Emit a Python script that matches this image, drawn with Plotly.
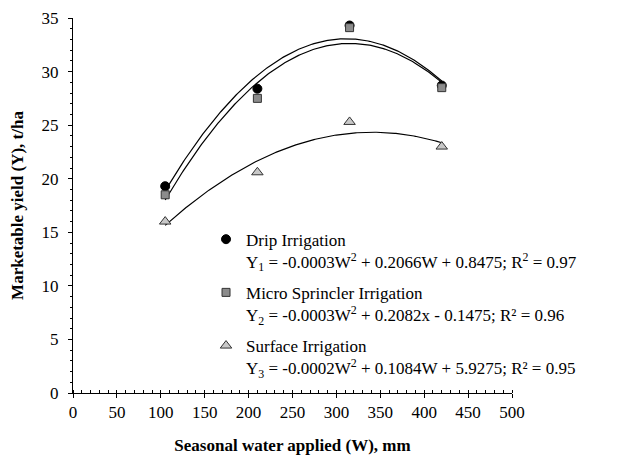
import numpy as np
import plotly.graph_objects as go

water = [105, 210, 315, 420]
drip = [19.3, 28.4, 34.3, 28.7]
micro = [18.5, 27.5, 34.1, 28.5]
surface = [16.0, 20.6, 25.3, 23.0]

names = [
    "Drip Irrigation<br>Y<sub>1</sub> = -0.0003W<sup>2</sup> + 0.2066W + 0.8475; R<sup>2</sup> = 0.97",
    "Micro Sprincler Irrigation<br>Y<sub>2</sub> = -0.0003W<sup>2</sup> + 0.2082x - 0.1475; R² = 0.96",
    "Surface Irrigation<br>Y<sub>3</sub> = -0.0002W<sup>2</sup> + 0.1084W + 5.9275; R² = 0.95",
]

FONT = "Liberation Serif, Times New Roman, serif"

fig = go.Figure()

series = [
    (drip, dict(symbol="circle", size=9, color="black", line=dict(color="black", width=1))),
    (micro, dict(symbol="square", size=8, color="#8c8c8c", line=dict(color="#333333", width=1))),
    (surface, dict(symbol="triangle-up", size=10, color="#c8c8c8", line=dict(color="#333333", width=1))),
]

xs = np.linspace(min(water), max(water), 200)
for vals, mk in series:
    coef = np.polyfit(water, vals, 2)
    fig.add_trace(go.Scatter(x=xs, y=np.polyval(coef, xs), mode="lines",
                             line=dict(color="black", width=1.2), showlegend=False,
                             hoverinfo="skip"))

for i, (vals, mk) in enumerate(series):
    fig.add_trace(go.Scatter(x=water, y=vals, mode="markers", marker=mk,
                             name=names[i], legendgroup=f"g{i}"))

fig.update_layout(
    width=622, height=459,
    margin=dict(l=65, r=118, t=10, b=74, autoexpand=False),
    paper_bgcolor="white", plot_bgcolor="white",
    font=dict(family=FONT, size=17, color="black"),
    legend=dict(x=0.303, y=0.457, xanchor="left", yanchor="top",
                bgcolor="rgba(0,0,0,0)", valign="top", tracegroupgap=6,
                font=dict(family=FONT, size=17, color="black")),
    xaxis=dict(range=[0, 500], tickvals=list(range(0, 501, 50)), showgrid=False,
               zeroline=False, showline=True, linecolor="black", linewidth=1,
               ticks="outside", ticklen=4, tickcolor="black", automargin=False,
               minor=dict(dtick=10, ticks="inside", ticklen=3, tickcolor="black", showgrid=False),
               title=dict(text="<b>Seasonal water applied (W), mm</b>", standoff=17,
                          font=dict(family=FONT, size=17)),
               tickfont=dict(family=FONT, size=17)),
    yaxis=dict(range=[0, 35], tickvals=list(range(0, 36, 5)), showgrid=False,
               zeroline=False, showline=True, linecolor="black", linewidth=1,
               ticks="outside", ticklen=4, tickcolor="black", automargin=False,
               ticklabelstandoff=6,
               minor=dict(dtick=1, ticks="outside", ticklen=2, tickcolor="black", showgrid=False),
               title=dict(text="<b>Marketable yield (Y), t/ha</b>", standoff=14,
                          font=dict(family=FONT, size=17)),
               tickfont=dict(family=FONT, size=17)),
)

fig.write_html("out.html")
